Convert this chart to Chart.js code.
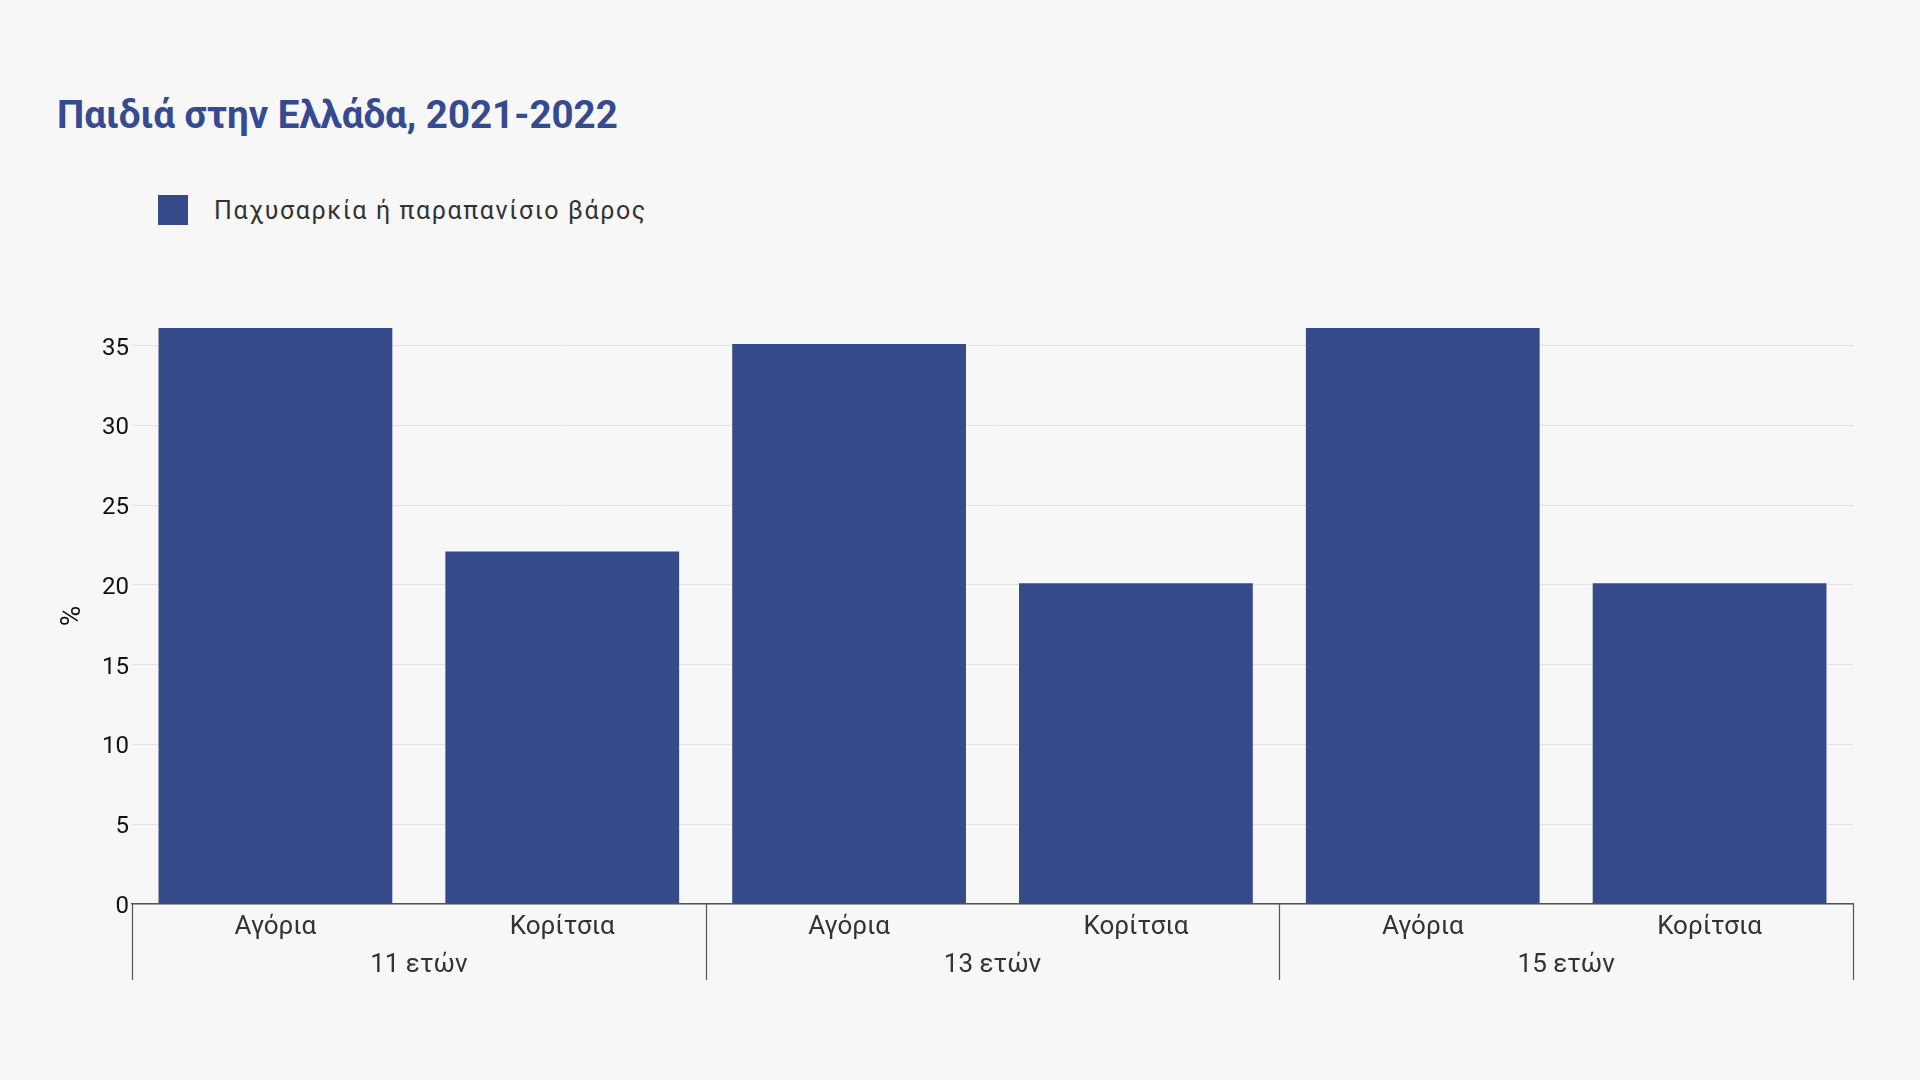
<!DOCTYPE html>
<html lang="el">
<head>
<meta charset="utf-8">
<title>Παιδιά στην Ελλάδα, 2021-2022</title>
<script src="https://cdn.jsdelivr.net/npm/chart.js@4.4.1/dist/chart.umd.min.js"></script>
<style>
  html, body {
    margin: 0;
    padding: 0;
    width: 1920px;
    height: 1080px;
    background: #f7f7f7;
    overflow: hidden;
    font-family: Roboto, "Noto Sans", sans-serif;
  }
  #titulo {
    position: absolute;
    left: 57px;
    top: 92px;
    margin: 0;
    font-size: 38.5px;
    font-weight: 700;
    color: #364a92;
    letter-spacing: 0;
  }
  #leyenda {
    position: absolute;
    left: 158px;
    top: 195px;
    display: flex;
    align-items: center;
    font-size: 25px;
    color: #333;
    letter-spacing: 1.6px;
  }
  #leyenda .caja {
    width: 30px;
    height: 30px;
    margin-right: 26px;
  }
  #lienzo {
    position: absolute;
    left: 0;
    top: 0;
  }
</style>
</head>
<body>
<h1 id="titulo">Παιδιά στην Ελλάδα, 2021-2022</h1>
<div id="leyenda"></div>
<div id="lienzo" style="width:1920px;height:1080px;">
  <canvas id="grafico"></canvas>
</div>
<script>
  const categorias = ["Αγόρια", "Κορίτσια", "Αγόρια", "Κορίτσια", "Αγόρια", "Κορίτσια"];
  const grupos = ["11 ετών", "13 ετών", "15 ετών"];
  const serieNombre = "Παχυσαρκία ή παραπανίσιο βάρος";
  const serieValores = [36.1, 22.1, 35.1, 20.1, 36.1, 20.1];
  const ticksY = [0, 5, 10, 15, 20, 25, 30, 35];

  const colorBarra = "#364a8a";
  const colorEje = "#555555";
  const fuente = "Roboto, 'Noto Sans', sans-serif";

  // etiquetas de grupo y separadores debajo del eje x
  const pluginGrupos = {
    id: "grupos",
    afterDraw(chart) {
      const x = chart.scales.x;
      const ctx = chart.ctx;
      const base = x.top;
      const porGrupo = categorias.length / grupos.length;
      ctx.save();
      ctx.strokeStyle = colorEje;
      ctx.lineWidth = 1.2;
      for (let g = 0; g <= grupos.length; g++) {
        const px = Math.round(x.getPixelForValue(g * porGrupo - 0.5)) + 0.5;
        ctx.beginPath();
        ctx.moveTo(px, base);
        ctx.lineTo(px, base + 76);
        ctx.stroke();
      }
      ctx.fillStyle = "#333";
      ctx.font = "26px " + fuente;
      ctx.textAlign = "center";
      ctx.textBaseline = "alphabetic";
      grupos.forEach((nombre, g) => {
        const a = x.getPixelForValue(g * porGrupo - 0.5);
        const b = x.getPixelForValue((g + 1) * porGrupo - 0.5);
        ctx.fillText(nombre, (a + b) / 2, base + 68);
      });
      ctx.restore();
    }
  };

  const canvas = document.getElementById("grafico");
  const grafico = new Chart(canvas, {
    type: "bar",
    data: {
      labels: categorias,
      datasets: [
        {
          label: serieNombre,
          data: serieValores,
          backgroundColor: colorBarra,
          borderWidth: 0,
          barPercentage: 0.815,
          categoryPercentage: 1
        }
      ]
    },
    options: {
      responsive: true,
      maintainAspectRatio: false,
      animation: false,
      layout: {
        padding: { left: 50, right: 67, top: 328, bottom: 96 }
      },
      plugins: {
        legend: { display: false },
        tooltip: { enabled: false }
      },
      scales: {
        x: {
          grid: { display: false, drawTicks: false },
          border: { display: true, color: colorEje, width: 1.5 },
          ticks: {
            color: "#333",
            padding: 8,
            font: { size: 26, family: fuente }
          },
          afterFit(scale) {
            scale.height = 80;
          }
        },
        y: {
          min: 0,
          max: 36.1,
          grid: { color: "#e3e3e3", lineWidth: 1, drawTicks: false },
          border: { display: false },
          ticks: {
            stepSize: 5,
            color: "#111",
            padding: 3,
            labelOffset: 3,
            font: { size: 24, family: fuente }
          },
          afterBuildTicks(scale) {
            scale.ticks = ticksY.map((v) => ({ value: v }));
          },
          afterFit(scale) {
            scale.width = 82;
          },
          title: {
            display: true,
            text: "%",
            color: "#111",
            padding: { top: 6, bottom: 0 },
            font: { size: 28, family: fuente }
          }
        }
      }
    },
    plugins: [pluginGrupos]
  });

  // leyenda html a partir del dataset
  const leyenda = document.getElementById("leyenda");
  grafico.data.datasets.forEach((ds) => {
    const caja = document.createElement("span");
    caja.className = "caja";
    caja.style.background = ds.backgroundColor;
    const texto = document.createElement("span");
    texto.textContent = ds.label;
    leyenda.appendChild(caja);
    leyenda.appendChild(texto);
  });
</script>
</body>
</html>
